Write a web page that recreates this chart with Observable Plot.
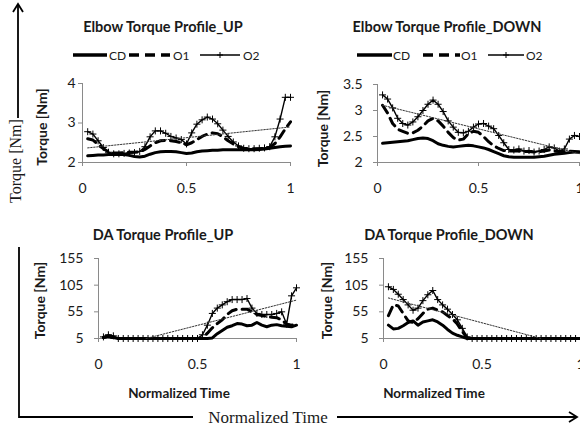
<!DOCTYPE html>
<html>
<head>
<meta charset="utf-8">
<script src="https://cdn.jsdelivr.net/npm/d3@7"></script>
<script src="https://cdn.jsdelivr.net/npm/@observablehq/plot@0.6"></script>
<style>
  html, body { margin: 0; padding: 0; background: white; }
  #fig { position: relative; width: 580px; height: 427px; overflow: hidden; background: white; }
  #fig svg.panel { position: absolute; background: transparent; overflow: visible; }
</style>
</head>
<body>
<div id="fig"></div>
<script>
// ---------- data ----------
const t = [0.025,0.05,0.075,0.1,0.125,0.15,0.175,0.2,0.225,0.25,
           0.275,0.3,0.325,0.35,0.375,0.4,0.425,0.45,0.475,0.5,
           0.525,0.55,0.575,0.6,0.625,0.65,0.675,0.7,0.725,0.75,
           0.775,0.8,0.825,0.85,0.875,0.9,0.925,0.95,0.975,1.0];
const xTicks = [0, 0.5, 1];
const seriesNames = ["CD", "O1", "O2"];

// Elbow Torque Profile_UP
const elbowUpCD = [2.17,2.18,2.19,2.19,2.2,2.2,2.2,2.2,2.18,2.15,
                   2.14,2.16,2.21,2.25,2.27,2.28,2.28,2.27,2.25,2.23,
                   2.24,2.27,2.29,2.3,2.31,2.31,2.32,2.32,2.32,2.32,
                   2.32,2.32,2.32,2.33,2.34,2.36,2.38,2.4,2.41,2.42];
const elbowUpO1 = [2.6,2.57,2.45,2.35,2.27,2.24,2.24,2.25,2.26,2.26,
                   2.27,2.33,2.42,2.5,2.55,2.56,2.55,2.53,2.5,2.45,
                   2.5,2.58,2.66,2.72,2.75,2.73,2.65,2.55,2.47,2.4,
                   2.36,2.35,2.35,2.35,2.36,2.38,2.48,2.65,2.85,3.03];
const elbowUpO2 = [2.78,2.72,2.55,2.38,2.26,2.22,2.22,2.23,2.24,2.25,
                   2.28,2.4,2.65,2.8,2.8,2.74,2.66,2.62,2.58,2.47,
                   2.75,2.97,3.08,3.15,3.1,2.98,2.82,2.66,2.52,2.42,
                   2.36,2.35,2.35,2.36,2.37,2.4,2.65,3.1,3.65,3.65];
const elbowUpTrendT = [0.025, 1.0];
const elbowUpTrendY = [2.37, 2.9];
const elbowUpYTicks = [2, 3, 4];

// Elbow Torque Profile_DOWN
const elbowDownCD = [2.37,2.38,2.39,2.4,2.41,2.42,2.44,2.46,2.47,2.46,
                     2.42,2.36,2.33,2.31,2.3,2.31,2.32,2.33,2.32,2.3,
                     2.28,2.25,2.21,2.17,2.13,2.11,2.1,2.1,2.1,2.1,
                     2.1,2.11,2.12,2.14,2.16,2.17,2.18,2.19,2.2,2.2];
const elbowDownO1 = [3.1,2.95,2.75,2.64,2.6,2.56,2.57,2.62,2.7,2.8,
                     2.85,2.8,2.7,2.58,2.48,2.43,2.45,2.55,2.6,2.58,
                     2.5,2.4,2.32,2.27,2.23,2.22,2.22,2.22,2.21,2.21,
                     2.2,2.21,2.22,2.24,2.22,2.21,2.22,2.22,2.21,2.2];
const elbowDownO2 = [3.3,3.22,3.05,2.85,2.75,2.72,2.78,2.88,3.0,3.12,
                     3.2,3.12,2.98,2.8,2.68,2.58,2.57,2.6,2.68,2.74,
                     2.75,2.7,2.65,2.52,2.38,2.25,2.24,2.26,2.22,2.23,
                     2.2,2.22,2.25,2.3,2.28,2.22,2.26,2.45,2.52,2.5];
const elbowDownTrendT = [0.025, 1.0];
const elbowDownTrendY = [3.1, 2.17];
const elbowDownYTicks = [2, 2.5, 3, 3.5];

// DA Torque Profile_UP
const daUpCD = [7,9,7,5,5,5,5,5,5,5,
                5,5,5,5,5,5,5,5,5,5,
                5,5,6,14,20,26,29,33,32,29,
                30,35,30,27,30,31,29,28,27,30];
const daUpO1 = [7,9,6,5,5,5,5,5,5,5,
                5,5,5,5,5,5,5,5,5,5,
                6,15,25,33,40,50,57,60,60,60,
                55,50,48,46,45,44,40,32,30,32];
const daUpO2 = [8,12,10,5,5,5,5,5,5,5,
                5,5,5,5,5,5,5,5,5,5,
                12,30,52,62,68,74,78,78,78,80,
                62,52,50,50,50,52,55,32,85,100];
const daUpTrendT = [0.24, 1.0];
const daUpTrendY = [5, 77];

// DA Torque Profile_DOWN
const daDownCD = [30,23,24,29,35,38,30,36,38,40,
                  36,30,22,15,11,8,5,5,5,5,
                  5,5,5,5,5,5,5,5,5,5,
                  5,5,5,5,5,5,5,5,5,5];
const daDownO1 = [48,68,66,52,38,35,42,52,60,62,
                  58,55,48,42,32,18,6,5,5,5,
                  5,5,5,5,5,5,5,5,5,5,
                  5,5,5,5,5,5,5,5,5,5];
const daDownO2 = [102,97,88,78,68,58,62,76,87,95,
                  78,68,60,50,40,24,8,5,5,5,
                  5,5,5,5,5,5,5,5,5,5,
                  5,5,5,5,5,5,5,5,5,5];
const daDownTrendT = [0.025, 0.8];
const daDownTrendY = [81, 5];
const daYTicks = [5, 55, 105, 155];

// ---------- drawing ----------
const FONT = "Lato, 'Open Sans', sans-serif";
const fig = document.getElementById("fig");
const fmt = d3.format("~g");

function panel(o) {
  const yDomain = [o.yTicks[0], o.yTicks[o.yTicks.length - 1]];
  const svg = Plot.plot({
    width: o.width, height: o.height,
    marginLeft: o.ml, marginRight: o.mr, marginTop: o.mt, marginBottom: o.mb,
    style: {fontFamily: FONT, fontSize: "14px", color: "#1a1a1a", background: "transparent", overflow: "visible"},
    x: {domain: [0, 1], label: null},
    y: {domain: yDomain, label: null},
    marks: [
      Plot.axisX({ticks: xTicks, tickFormat: fmt, tickSize: 4, tickPadding: 17, stroke: "#8a8a8a", fill: "#1a1a1a", fontSize: 14, label: null}),
      Plot.axisY({ticks: o.yTicks, tickFormat: fmt, tickSize: 4, tickPadding: o.yPad, stroke: "#8a8a8a", fill: "#1a1a1a", fontSize: 14, label: null}),
      Plot.ruleX([0], {stroke: "#8a8a8a", strokeWidth: 1}),
      Plot.ruleY([yDomain[0]], {stroke: "#8a8a8a", strokeWidth: 1}),
      Plot.line(t, {x: t, y: o.cd, stroke: "black", strokeWidth: 3}),
      Plot.line(t, {x: t, y: o.o1, stroke: "black", strokeWidth: 3, strokeDasharray: "9,6"}),
      Plot.line(t, {x: t, y: o.o2, stroke: "black", strokeWidth: 1.4}),
      Plot.dot(t, {x: t, y: o.o2, symbol: "plus", r: 2.4, stroke: "black", strokeWidth: 1}),
      Plot.line(o.trendT, {x: o.trendT, y: o.trendY, stroke: "#333", strokeWidth: 1, strokeDasharray: "1.5,1.5"}),
      Plot.text(["Torque [Nm]"], {frameAnchor: "left", rotate: -90, textAnchor: "middle", dx: o.ldx, dy: o.ldy,
        fontWeight: "bold", fontSize: 14, fill: "#1a1a1a"})
    ]
  });
  svg.classList.add("panel");
  svg.style.left = o.left + "px";
  svg.style.top = o.top + "px";
  fig.appendChild(svg);
}

panel({left: 0, top: 0, width: 300, height: 210, ml: 82, mr: 10, mt: 83, mb: 48, yPad: 3,
  yTicks: elbowUpYTicks, cd: elbowUpCD, o1: elbowUpO1, o2: elbowUpO2,
  trendT: elbowUpTrendT, trendY: elbowUpTrendY, ldx: -40, ldy: 4});
panel({left: 290, top: 0, width: 290, height: 210, ml: 87, mr: 1, mt: 84, mb: 48, yPad: 11,
  yTicks: elbowDownYTicks, cd: elbowDownCD, o1: elbowDownO1, o2: elbowDownO2,
  trendT: elbowDownTrendT, trendY: elbowDownTrendY, ldx: -54, ldy: 5});
panel({left: 0, top: 210, width: 306, height: 200, ml: 98, mr: 10, mt: 48, mb: 72, yPad: 11,
  yTicks: daYTicks, cd: daUpCD, o1: daUpO1, o2: daUpO2,
  trendT: daUpTrendT, trendY: daUpTrendY, ldx: -58, ldy: 2});
panel({left: 290, top: 210, width: 290, height: 200, ml: 93, mr: 0, mt: 48, mb: 72, yPad: 11,
  yTicks: daYTicks, cd: daDownCD, o1: daDownO1, o2: daDownO2,
  trendT: daDownTrendT, trendY: daDownTrendY, ldx: -56, ldy: 2});

// ---------- titles, legends, outer axes ----------
const deco = d3.select(fig).append("svg")
  .attr("width", 580).attr("height", 427)
  .style("position", "absolute").style("left", "0px").style("top", "0px")
  .style("pointer-events", "none");

const titles = [
  ["Elbow Torque Profile_UP", 163, 26],
  ["Elbow Torque Profile_DOWN", 447, 26],
  ["DA Torque Profile_UP", 163, 234],
  ["DA Torque Profile_DOWN", 449, 234]
];
titles.forEach(([s, x, y]) => deco.append("text").text(s)
  .attr("x", x).attr("y", y).attr("text-anchor", "middle").attr("dominant-baseline", "central")
  .style("font-family", FONT).style("font-weight", "bold").style("font-size", "14.5px").attr("fill", "#1a1a1a"));

[[179, 393], [434, 393]].forEach(([x, y]) => deco.append("text").text("Normalized Time")
  .attr("x", x).attr("y", y).attr("text-anchor", "middle").attr("dominant-baseline", "central")
  .style("font-family", FONT).style("font-weight", "bold").style("font-size", "13.5px").attr("fill", "#1a1a1a"));

function legend(x0, y, pos) {
  const g = deco.append("g").attr("transform", `translate(${x0},${y})`);
  g.append("line").attr("x1", pos[0]).attr("x2", pos[1]).attr("stroke", "black").attr("stroke-width", 3.5);
  g.append("line").attr("x1", pos[3]).attr("x2", pos[4]).attr("stroke", "black").attr("stroke-width", 3.5)
    .attr("stroke-dasharray", "10,6");
  g.append("line").attr("x1", pos[6]).attr("x2", pos[7]).attr("stroke", "black").attr("stroke-width", 1.4);
  const mx = (pos[6] + pos[7]) / 2;
  g.append("path").attr("d", `M${mx - 3},0H${mx + 3}M${mx},-3V3`)
    .attr("stroke", "black").attr("stroke-width", 1);
  [[seriesNames[0], pos[2]], [seriesNames[1], pos[5]], [seriesNames[2], pos[8]]].forEach(([s, x]) =>
    g.append("text").text(s).attr("x", x).attr("y", 0).attr("dominant-baseline", "central")
      .style("font-family", FONT).style("font-size", "12px").attr("fill", "#1a1a1a"));
}
legend(0, 55, [73, 107, 109, 129, 170, 173, 200, 240, 243]);
legend(290, 55, [67, 102, 103, 133, 170, 171, 198, 234, 236]);

// outer axes with arrows
const serif = "'Liberation Serif', 'Times New Roman', serif";
deco.append("line").attr("x1", 18).attr("x2", 18).attr("y1", 5).attr("y2", 118).attr("stroke", "black").attr("stroke-width", 1.8);
deco.append("path").attr("d", "M13,12L18,4L23,12").attr("fill", "none").attr("stroke", "black").attr("stroke-width", 1.8);
deco.append("text").text("Torque [Nm]").attr("transform", "translate(15,161) rotate(-90)")
  .attr("text-anchor", "middle").attr("dominant-baseline", "central")
  .style("font-family", serif).style("font-size", "16px").attr("fill", "#1a1a1a");
deco.append("path").attr("d", "M19,247V417H193").attr("fill", "none").attr("stroke", "black").attr("stroke-width", 1.8);
deco.append("text").text("Normalized Time").attr("x", 268).attr("y", 417)
  .attr("text-anchor", "middle").attr("dominant-baseline", "central")
  .style("font-family", serif).style("font-size", "17px").attr("fill", "#1a1a1a");
deco.append("line").attr("x1", 337).attr("x2", 577).attr("y1", 417).attr("y2", 417).attr("stroke", "black").attr("stroke-width", 1.8);
deco.append("path").attr("d", "M569,412L577,417L569,422").attr("fill", "none").attr("stroke", "black").attr("stroke-width", 1.8);
</script>
</body>
</html>
